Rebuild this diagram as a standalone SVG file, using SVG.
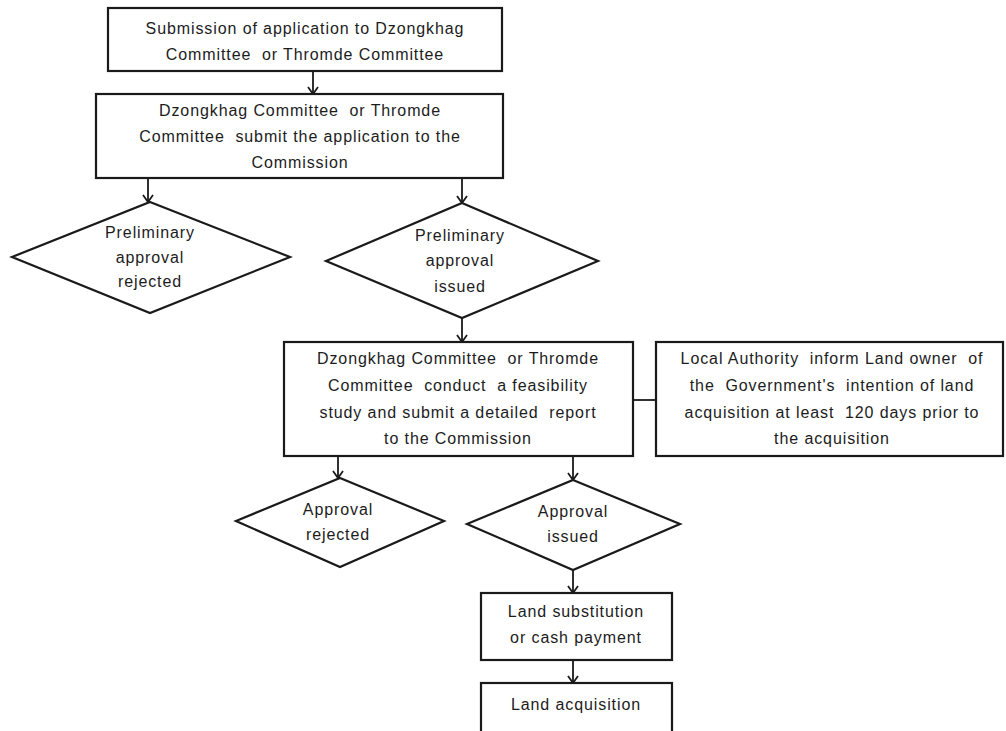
<svg xmlns="http://www.w3.org/2000/svg" width="1006" height="731" viewBox="0 0 1006 731">
<defs>
<marker id="arr" viewBox="0 0 12 12" refX="11" refY="6" markerWidth="12" markerHeight="12" markerUnits="userSpaceOnUse" orient="auto">
<path d="M4,1 L11,6 L4,11" fill="none" stroke="#1a1a1a" stroke-width="1.8"/>
</marker>
</defs>
<style>
.box{fill:#fff;stroke:#1a1a1a;stroke-width:2.2}
.t{font-family:"Liberation Sans",Arial,sans-serif;font-size:16px;letter-spacing:0.9px;fill:#1c1c1c;text-anchor:middle;white-space:pre}
.c{stroke:#1a1a1a;stroke-width:1.8;fill:none}
</style>
<rect width="1006" height="731" fill="#fff"/>
<g id="connectors">
<line class="c" x1="313" y1="71" x2="313" y2="94" marker-end="url(#arr)"/>
<line class="c" x1="148" y1="178" x2="148" y2="202" marker-end="url(#arr)"/>
<line class="c" x1="462" y1="178" x2="462" y2="203" marker-end="url(#arr)"/>
<line class="c" x1="462" y1="318" x2="462" y2="342" marker-end="url(#arr)"/>
<line class="c" x1="633" y1="400" x2="656" y2="400"/>
<line class="c" x1="338" y1="456" x2="338" y2="478" marker-end="url(#arr)"/>
<line class="c" x1="573" y1="456" x2="573" y2="480" marker-end="url(#arr)"/>
<line class="c" x1="573" y1="570" x2="573" y2="593" marker-end="url(#arr)"/>
<line class="c" x1="573" y1="660" x2="573" y2="683" marker-end="url(#arr)"/>
</g>
<g id="n1">
<rect class="box" x="108" y="8" width="394" height="63"/>
<text class="t" x="305" y="34">Submission of application to Dzongkhag</text>
<text class="t" x="305" y="60">Committee  or Thromde Committee</text>
</g>
<g id="n2">
<rect class="box" x="96" y="94" width="407" height="84"/>
<text class="t" x="300" y="116">Dzongkhag Committee  or Thromde</text>
<text class="t" x="300" y="142">Committee  submit the application to the</text>
<text class="t" x="300" y="168">Commission</text>
</g>
<g id="n3">
<polygon class="box" points="150,202 290,257 150,313 12,257"/>
<text class="t" x="150" y="238">Preliminary</text>
<text class="t" x="150" y="263">approval</text>
<text class="t" x="150" y="287">rejected</text>
</g>
<g id="n4">
<polygon class="box" points="462,203 598,261 462,318 326,261"/>
<text class="t" x="460" y="241">Preliminary</text>
<text class="t" x="460" y="266">approval</text>
<text class="t" x="460" y="292">issued</text>
</g>
<g id="n5">
<rect class="box" x="284" y="342" width="349" height="114"/>
<text class="t" x="458" y="364">Dzongkhag Committee  or Thromde</text>
<text class="t" x="458" y="391">Committee  conduct  a feasibility</text>
<text class="t" x="458" y="418">study and submit a detailed  report</text>
<text class="t" x="458" y="444">to the Commission</text>
</g>
<g id="n6">
<rect class="box" x="656" y="342" width="347" height="114"/>
<text class="t" x="832" y="364">Local Authority  inform Land owner  of</text>
<text class="t" x="832" y="391">the  Government's  intention of land</text>
<text class="t" x="832" y="418">acquisition at least  120 days prior to</text>
<text class="t" x="832" y="444">the acquisition</text>
</g>
<g id="n7">
<polygon class="box" points="340,478 444,521 340,567 236,521"/>
<text class="t" x="338" y="515">Approval</text>
<text class="t" x="338" y="540">rejected</text>
</g>
<g id="n8">
<polygon class="box" points="573,480 680,524 573,570 467,524"/>
<text class="t" x="573" y="517">Approval</text>
<text class="t" x="573" y="542">issued</text>
</g>
<g id="n9">
<rect class="box" x="481" y="593" width="191" height="67"/>
<text class="t" x="576" y="617">Land substitution</text>
<text class="t" x="576" y="643">or cash payment</text>
</g>
<g id="n10">
<rect class="box" x="481" y="683" width="191" height="60"/>
<text class="t" x="576" y="710">Land acquisition</text>
</g>
</svg>
